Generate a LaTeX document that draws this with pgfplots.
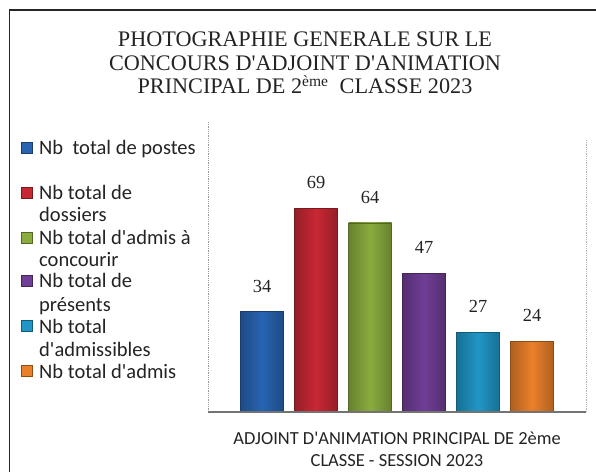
\documentclass[border=0pt]{standalone}
\usepackage{pgfplots}
\pgfplotsset{compat=1.18}
\usepackage{fontspec}
\setmainfont{Liberation Serif}
\newfontfamily\carlito{Carlito}
\definecolor{cA}{RGB}{40,100,178}
\definecolor{cB}{RGB}{200,40,52}
\definecolor{cC}{RGB}{138,172,62}
\definecolor{cD}{RGB}{112,62,150}
\definecolor{cE}{RGB}{32,150,198}
\definecolor{cF}{RGB}{234,128,42}
\definecolor{txt}{RGB}{35,35,35}
\begin{document}
\begin{tikzpicture}
\begin{scope}[x=1bp,y=1bp]
\path[use as bounding box] (0,0) rectangle (596,-472);
% frame
\draw[line width=1.8bp, color=black!85] (9.5,-472) -- (9.5,-10) -- (596,-10);
% title
\foreach \yy/\ll in {47/{PHOTOGRAPHIE GENERALE SUR LE},70.5/{CONCOURS D\textquotesingle ADJOINT D\textquotesingle ANIMATION},94/{PRINCIPAL DE 2\textsuperscript{ème}\ \ CLASSE 2023}}{
  \node[font=\fontsize{22.3}{24}\selectfont, text=txt, anchor=base, inner sep=0pt] at (305,-\yy) {\ll};
}
% legend
\foreach \yy/\cc in {155/cA,200/cB,245/cC,288/cD,333/cE,378/cF}{
  \fill[\cc, draw=\cc!60!black, line width=0.6bp] (21,-\yy+2) rectangle (32,-\yy+12.5);
}
\foreach \yy/\ll in {155/{Nb\ \ total de postes},200/{Nb total de},222/{dossiers},245/{Nb total d'admis à},267/{concourir},288/{Nb total de},311/{présents},333/{Nb total},356/{d'admissibles},378/{Nb total d'admis}}{
  \node[anchor=base west, inner sep=0pt, font=\carlito\fontsize{20.6}{22}\selectfont, text=txt] at (39,-\yy) {\ll};
}
% x label
\node[font=\carlito\fontsize{18.5}{22}\selectfont, text=txt, anchor=base, inner sep=0pt] at (397,-444) {ADJOINT D'ANIMATION PRINCIPAL DE 2ème};
\node[font=\carlito\fontsize{18.5}{22}\selectfont, text=txt, anchor=base, inner sep=0pt] at (397,-466) {CLASSE - SESSION 2023};
\end{scope}
\begin{axis}[
  at={(208bp,-412bp)}, anchor=south west,
  scale only axis, width=378bp, height=290bp,
  xmin=0, xmax=7, ymin=0, ymax=98.1,
  axis line style={draw=none},
  xtick=\empty, ytick=\empty,
  ybar, bar width=43bp, bar shift=0pt,
  nodes near coords,
  /pgf/number format/assume math mode=true,
  every node near coord/.append style={font=\fontsize{18.5}{18.5}\selectfont, text=txt, inner sep=0pt, anchor=south, yshift=19bp},
  clip=false,
]
\addplot[draw=cA!60!black, left color=cA!75!black, right color=cA!75!black, middle color=cA] coordinates {(1,34)};
\addplot[draw=cB!60!black, left color=cB!75!black, right color=cB!75!black, middle color=cB] coordinates {(2,69)};
\addplot[draw=cC!60!black, left color=cC!75!black, right color=cC!75!black, middle color=cC] coordinates {(3,64)};
\addplot[draw=cD!60!black, left color=cD!75!black, right color=cD!75!black, middle color=cD] coordinates {(4,47)};
\addplot[draw=cE!60!black, left color=cE!75!black, right color=cE!75!black, middle color=cE] coordinates {(5,27)};
\addplot[draw=cF!60!black, left color=cF!75!black, right color=cF!75!black, middle color=cF] coordinates {(6,24)};
\draw[black!40, densely dotted, line width=0.8bp] (rel axis cs:0,0) -- (rel axis cs:0,1);
\draw[black!30, densely dotted, line width=0.8bp] (rel axis cs:1,0) -- (rel axis cs:1,0.94);
\draw[black!55, line width=1.4bp] (rel axis cs:0,0) -- (rel axis cs:1,0);
\end{axis}
\end{tikzpicture}
\end{document}
